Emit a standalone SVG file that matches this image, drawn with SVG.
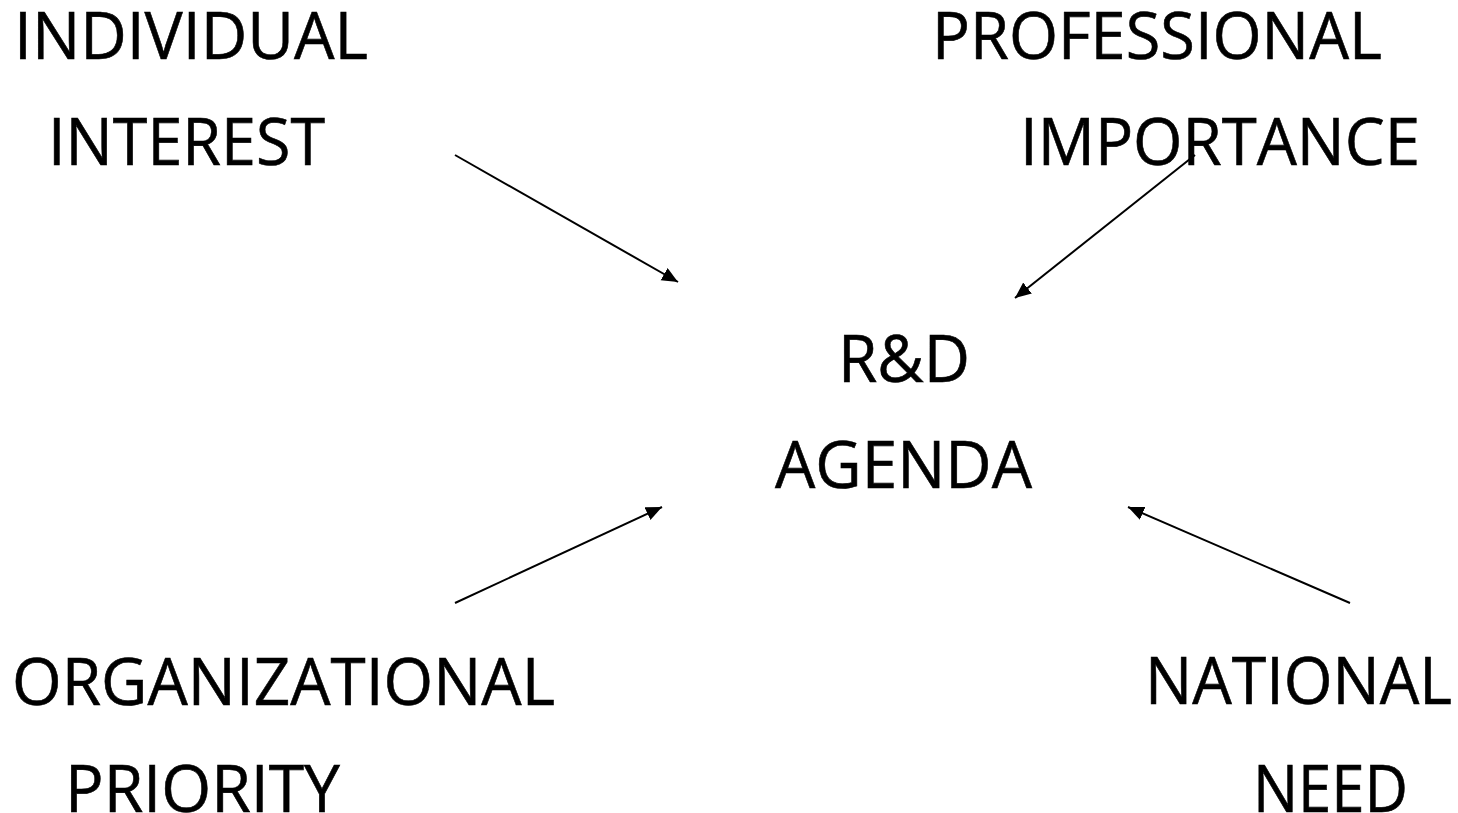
<svg xmlns="http://www.w3.org/2000/svg" width="1458" height="813" viewBox="0 0 1458 813">
  <style>
    .lbl { font-family: "Open Sans", "Noto Sans", "Liberation Sans", sans-serif; font-size: 66px; fill: #000; stroke: #000; stroke-width: 0.6px; }
    .link { stroke: #000; stroke-width: 2; fill: none; marker-end: url(#arrow); }
  </style>
  <defs>
    <marker id="arrow" markerUnits="userSpaceOnUse" markerWidth="18" markerHeight="16" refX="16" refY="7" orient="auto">
      <path d="M0,0 L16,7 L0,14 z" fill="#000"/>
    </marker>
  </defs>
  <rect width="1458" height="813" fill="#fff"/>

  <g id="individual-interest">
    <text class="lbl" x="14" y="59" textLength="354" lengthAdjust="spacingAndGlyphs">INDIVIDUAL</text>
    <text class="lbl" x="48" y="165" textLength="277" lengthAdjust="spacingAndGlyphs">INTEREST</text>
  </g>
  <g id="professional-importance">
    <text class="lbl" x="932" y="59" textLength="450" lengthAdjust="spacingAndGlyphs">PROFESSIONAL</text>
    <text class="lbl" x="1020" y="165" textLength="400" lengthAdjust="spacingAndGlyphs">IMPORTANCE</text>
  </g>
  <g id="rd-agenda">
    <text class="lbl" x="838" y="382" textLength="132" lengthAdjust="spacingAndGlyphs">R&amp;D</text>
    <text class="lbl" x="775" y="488" textLength="257" lengthAdjust="spacingAndGlyphs">AGENDA</text>
  </g>
  <g id="organizational-priority">
    <text class="lbl" x="12" y="705" textLength="543" lengthAdjust="spacingAndGlyphs">ORGANIZATIONAL</text>
    <text class="lbl" x="65" y="812" textLength="275" lengthAdjust="spacingAndGlyphs">PRIORITY</text>
  </g>
  <g id="national-need">
    <text class="lbl" x="1145" y="704" textLength="307" lengthAdjust="spacingAndGlyphs">NATIONAL</text>
    <text class="lbl" x="1253" y="812" textLength="155" lengthAdjust="spacingAndGlyphs">NEED</text>
  </g>

  <g id="connectors">
    <line class="link" x1="455" y1="155" x2="678" y2="282"/>
    <line class="link" x1="1195" y1="155" x2="1015" y2="298"/>
    <line class="link" x1="455" y1="603" x2="662" y2="507"/>
    <line class="link" x1="1350" y1="603" x2="1128" y2="507"/>
  </g>
</svg>
